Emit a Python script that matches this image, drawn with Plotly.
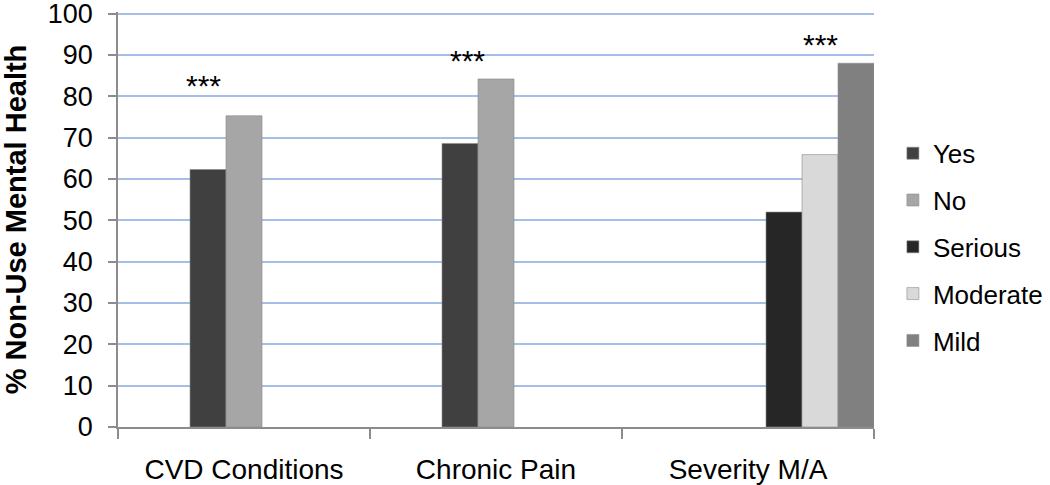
import plotly.graph_objects as go

categories = ["CVD Conditions", "Chronic Pain", "Severity M/A"]
yes = [62.3, 68.6, None]
no = [75.3, 84.2, None]
serious = [None, None, 52.0]
moderate = [None, None, 65.9]
mild = [None, None, 88.0]

star_labels = ["***", "***", "***"]
star_y = [82.5, 88.7, 92.6]
y_ticks = [0, 10, 20, 30, 40, 50, 60, 70, 80, 90, 100]

FONT = "Liberation Sans, Arial, sans-serif"

series = [
    ("Yes", yes, "#404040", -3 / 14),
    ("No", no, "#A6A6A6", -1 / 14),
    ("Serious", serious, "#262626", 1 / 14),
    ("Moderate", moderate, "#D9D9D9", 3 / 14),
    ("Mild", mild, "#808080", 5 / 14),
]

fig = go.Figure()
for name, vals, color, off in series:
    fig.add_trace(go.Bar(
        x=categories, y=vals, name=name,
        marker=dict(color=color, line=dict(width=0.6, color="#8c8c8c")),
        width=1 / 7, offset=off, legendgroup=name,
    ))

star_dx = [-0.159, -0.115, 0.286]
for i, (lab, yy) in enumerate(zip(star_labels, star_y)):
    fig.add_annotation(x=i + star_dx[i], y=yy, text=lab, showarrow=False,
                       xref="x", yref="y", yanchor="middle",
                       font=dict(family=FONT, size=30, color="#000000"))

fig.update_layout(
    width=1050, height=485,
    margin=dict(l=118, r=176, t=12, b=58, autoexpand=False),
    barmode="overlay",
    paper_bgcolor="white", plot_bgcolor="white",
    font=dict(family=FONT, size=28, color="#000000"),
    showlegend=True,
    legend=dict(x=1.025, y=0.433, xanchor="left", yanchor="middle",
                font=dict(family=FONT, size=26, color="#000000"),
                tracegroupgap=10, itemwidth=30, traceorder="grouped"),
)
fig.update_xaxes(
    type="category", range=[-0.5, 2.5], automargin=False,
    showline=True, linecolor="#8c8c8c", linewidth=1.5,
    ticks="outside", tickson="boundaries", ticklen=10, tickcolor="#8c8c8c", tickwidth=1.5,
    showgrid=False, tickfont=dict(family=FONT, size=28), ticklabelstandoff=17,
)
fig.update_yaxes(
    range=[0, 100.4], tickvals=y_ticks, zeroline=False, automargin=False,
    showline=True, linecolor="#8c8c8c", linewidth=1.5,
    ticks="outside", ticklen=8, tickcolor="#8c8c8c", tickwidth=1.5,
    showgrid=True, gridcolor="#A4BEE8", gridwidth=1.5,
    tickfont=dict(family=FONT, size=27), ticklabelstandoff=10, ticklabeloverflow="allow",
    title=dict(text="<b>% Non-Use Mental Health</b>", font=dict(family=FONT, size=29), standoff=19),
)

# remove the page's default body margin so the figure fills the window exactly
fig.write_html("out.html", config={"displayModeBar": False},
               post_script="document.body.style.margin='0';")
